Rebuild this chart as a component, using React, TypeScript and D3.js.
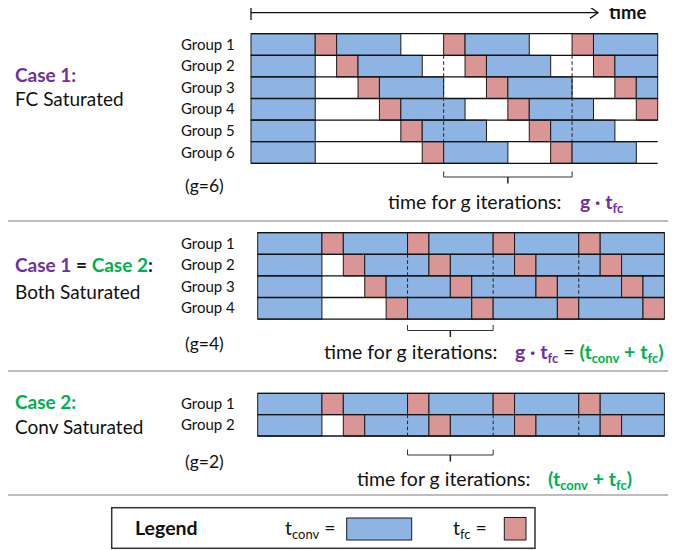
import React from "react";
import * as d3 from "d3";

// ---------- DATA (time units: t_fc = 1, t_conv = 3) ----------
type Seg = [number, number, "conv" | "fc"];

const TIME_SPAN = [0, 19];

const case1Groups = ["Group 1", "Group 2", "Group 3", "Group 4", "Group 5", "Group 6"];
const case1Segments: Seg[][] = [
  [[0, 3, "conv"], [3, 4, "fc"], [4, 7, "conv"], [9, 10, "fc"], [10, 13, "conv"], [15, 16, "fc"], [16, 19, "conv"]],
  [[0, 3, "conv"], [4, 5, "fc"], [5, 8, "conv"], [10, 11, "fc"], [11, 14, "conv"], [16, 17, "fc"], [17, 19, "conv"]],
  [[0, 3, "conv"], [5, 6, "fc"], [6, 9, "conv"], [11, 12, "fc"], [12, 15, "conv"], [17, 18, "fc"], [18, 19, "conv"]],
  [[0, 3, "conv"], [6, 7, "fc"], [7, 10, "conv"], [12, 13, "fc"], [13, 16, "conv"], [18, 19, "fc"]],
  [[0, 3, "conv"], [7, 8, "fc"], [8, 11, "conv"], [13, 14, "fc"], [14, 17, "conv"]],
  [[0, 3, "conv"], [8, 9, "fc"], [9, 12, "conv"], [14, 15, "fc"], [15, 18, "conv"]],
];
const case1Dashes = [9, 15];
const case1DashRows = [1, 4];
const case1Brace = [9, 15];

const case12Groups = ["Group 1", "Group 2", "Group 3", "Group 4"];
const case12Segments: Seg[][] = [
  [[0, 3, "conv"], [3, 4, "fc"], [4, 7, "conv"], [7, 8, "fc"], [8, 11, "conv"], [11, 12, "fc"], [12, 15, "conv"], [15, 16, "fc"], [16, 19, "conv"]],
  [[0, 3, "conv"], [4, 5, "fc"], [5, 8, "conv"], [8, 9, "fc"], [9, 12, "conv"], [12, 13, "fc"], [13, 16, "conv"], [16, 17, "fc"], [17, 19, "conv"]],
  [[0, 3, "conv"], [5, 6, "fc"], [6, 9, "conv"], [9, 10, "fc"], [10, 13, "conv"], [13, 14, "fc"], [14, 17, "conv"], [17, 18, "fc"], [18, 19, "conv"]],
  [[0, 3, "conv"], [6, 7, "fc"], [7, 10, "conv"], [10, 11, "fc"], [11, 14, "conv"], [14, 15, "fc"], [15, 18, "conv"], [18, 19, "fc"]],
];
const case12Dashes = [7, 11, 15];
const case12DashRows = [1, 2];
const case12Brace = [7, 11];

const case2Groups = ["Group 1", "Group 2"];
const case2Segments: Seg[][] = [
  [[0, 3, "conv"], [3, 4, "fc"], [4, 7, "conv"], [7, 8, "fc"], [8, 11, "conv"], [11, 12, "fc"], [12, 15, "conv"], [15, 16, "fc"], [16, 19, "conv"]],
  [[0, 3, "conv"], [4, 5, "fc"], [5, 8, "conv"], [8, 9, "fc"], [9, 12, "conv"], [12, 13, "fc"], [13, 16, "conv"], [16, 17, "fc"], [17, 19, "conv"]],
];
const case2Dashes = [7, 11, 15];
const case2DashRows = [1, 1];
const case2Brace = [7, 11];

const gLabels = ["(g=6)", "(g=4)", "(g=2)"];

// ---------- STYLE ----------
const BLUE = "#8EB4E3";
const RED = "#D99694";
const PURPLE = "#7030A0";
const GREEN = "#00B050";
const FONT = "Lato, 'Open Sans', sans-serif";

const W = 683;
const H = 550;
const TXT = 19.5;
const SUB = 13;

interface PanelProps {
  groups: string[];
  segments: Seg[][];
  dashes: number[];
  dashRows: number[];
  brace: number[];
  x0: number;
  width: number;
  top: number;
  rowH: number;
  braceTop: number;
}

function Panel(p: PanelProps) {
  const x = d3.scaleLinear().domain(TIME_SPAN).range([p.x0, p.x0 + p.width]);
  const y = d3
    .scaleBand<string>()
    .domain(p.groups)
    .range([p.top, p.top + p.rowH * p.groups.length])
    .padding(0);
  const bw = y.bandwidth();
  const bounds = d3.range(p.groups.length + 1).map((i) => p.top + i * bw);
  const [b1, b2] = p.brace;
  const xm = (x(b1) + x(b2)) / 2;
  const bt = p.braceTop;
  return (
    <g>
      {p.groups.map((g, gi) => (
        <g key={g}>
          <text x={181} y={(y(g) as number) + bw / 2 + 5} fontSize={15} fontFamily={FONT} fill="#111">
            {g}
          </text>
          {p.segments[gi].map((s, si) => (
            <rect
              key={si}
              x={x(s[0])}
              y={y(g)}
              width={x(s[1]) - x(s[0])}
              height={bw}
              fill={s[2] === "conv" ? BLUE : RED}
              stroke="#1a1a1a"
              strokeWidth={1}
            />
          ))}
        </g>
      ))}
      {bounds.map((by, i) => (
        <line key={i} x1={x(TIME_SPAN[0])} x2={x(TIME_SPAN[1])} y1={by} y2={by} stroke="#111" strokeWidth={1.3} />
      ))}
      {p.dashes.map((d, i) => (
        <line
          key={i}
          x1={x(d)}
          x2={x(d)}
          y1={bounds[p.dashRows[0]]}
          y2={bounds[p.dashRows[1] + 1]}
          stroke="#222"
          strokeWidth={1}
          strokeDasharray="3.5,2.5"
        />
      ))}
      <path
        d={`M${x(b1)},${bt} V${bt + 5.5} H${x(b2)} V${bt}`}
        fill="none"
        stroke="#333"
        strokeWidth={1}
      />
      <line x1={xm} x2={xm} y1={bt + 5.5} y2={bt + 12} stroke="#222" strokeWidth={1.5} />
    </g>
  );
}

const subStyle = { fontSize: SUB };

export default function App() {
  return (
    <svg width={W} height={H} style={{ display: "block", margin: "-8px 0 0 -8px" }} fontFamily={FONT}>
      <rect x={0} y={0} width={W} height={H} fill="#fff" />
      {/* time arrow */}
      <line x1={251} x2={251} y1={3} y2={20} stroke="#111" strokeWidth={1.3} />
      <line x1={251} x2={598} y1={12.7} y2={12.7} stroke="#111" strokeWidth={1.3} />
      <path d="M590,7 L598,12.7 L590,18.4" fill="none" stroke="#111" strokeWidth={1.3} />
      <text x={609} y={19} fontSize={18.5} fontWeight="bold" fill="#111">
        time
      </text>

      {/* separators */}
      {[221, 371, 495].map((sy) => (
        <line key={sy} x1={0} x2={668} y1={sy} y2={sy} stroke="#A6A6A6" strokeWidth={1.5} />
      ))}

      {/* Case 1 */}
      <text x={15} y={82} fontSize={19} fontWeight="bold" fill={PURPLE}>
        Case 1:
      </text>
      <text x={15} y={106} fontSize={19} fill="#111">
        FC Saturated
      </text>
      <Panel
        groups={case1Groups}
        segments={case1Segments}
        dashes={case1Dashes}
        dashRows={case1DashRows}
        brace={case1Brace}
        x0={251}
        width={406.7}
        top={33.7}
        rowH={21.6}
        braceTop={171.5}
      />
      <text x={185} y={192} fontSize={17.5} fill="#111">
        {gLabels[0]}
      </text>
      <text x={388} y={209} fontSize={TXT} fill="#111">
        time for g iterations:
      </text>
      <text x={580} y={209} fontSize={TXT} fontWeight="bold" fill={PURPLE}>
        g · t<tspan dy={4} style={subStyle}>fc</tspan>
      </text>

      {/* Case 1 = Case 2 */}
      <text x={15} y={272} fontSize={19} fontWeight="bold" fill="#111">
        <tspan fill={PURPLE}>Case 1</tspan>
        <tspan> = </tspan>
        <tspan fill={GREEN}>Case 2</tspan>
        <tspan>:</tspan>
      </text>
      <text x={15} y={298.5} fontSize={19} fill="#111">
        Both Saturated
      </text>
      <Panel
        groups={case12Groups}
        segments={case12Segments}
        dashes={case12Dashes}
        dashRows={case12DashRows}
        brace={case12Brace}
        x0={257.7}
        width={406.7}
        top={232.7}
        rowH={21.6}
        braceTop={325}
      />
      <text x={185} y={350} fontSize={17.5} fill="#111">
        {gLabels[1]}
      </text>
      <text x={324} y={359} fontSize={TXT} fill="#111">
        time for g iterations:
      </text>
      <text x={515} y={359} fontSize={TXT} fontWeight="bold">
        <tspan fill={PURPLE}>g · t</tspan>
        <tspan fill={PURPLE} dy={4} style={subStyle}>fc</tspan>
        <tspan fill="#111" fontWeight="normal" dy={-4}> = </tspan>
        <tspan fill={GREEN}>(t</tspan>
        <tspan fill={GREEN} dy={4} style={subStyle}>conv</tspan>
        <tspan fill={GREEN} dy={-4}> + t</tspan>
        <tspan fill={GREEN} dy={4} style={subStyle}>fc</tspan>
        <tspan fill={GREEN} dy={-4}>)</tspan>
      </text>

      {/* Case 2 */}
      <text x={15} y={409} fontSize={19} fontWeight="bold" fill={GREEN}>
        Case 2:
      </text>
      <text x={15} y={434} fontSize={19} fill="#111">
        Conv Saturated
      </text>
      <Panel
        groups={case2Groups}
        segments={case2Segments}
        dashes={case2Dashes}
        dashRows={case2DashRows}
        brace={case2Brace}
        x0={257.7}
        width={406.7}
        top={393.3}
        rowH={21.35}
        braceTop={449.5}
      />
      <text x={185} y={468} fontSize={17.5} fill="#111">
        {gLabels[2]}
      </text>
      <text x={357} y={486} fontSize={TXT} fill="#111">
        time for g iterations:
      </text>
      <text x={548} y={486} fontSize={TXT} fontWeight="bold" fill={GREEN}>
        (t<tspan dy={4} style={subStyle}>conv</tspan>
        <tspan dy={-4}> + t</tspan>
        <tspan dy={4} style={subStyle}>fc</tspan>
        <tspan dy={-4}>)</tspan>
      </text>

      {/* Legend */}
      <rect x={111.7} y={507.7} width={423.3} height={40.6} fill="#fff" stroke="#333" strokeWidth={1.5} />
      <text x={135} y={534.5} fontSize={19.5} fontWeight="bold" fill="#111">
        Legend
      </text>
      <text x={285} y={534.5} fontSize={TXT} fill="#111">
        t<tspan dy={4} style={subStyle}>conv</tspan>
        <tspan dy={-4}> =</tspan>
      </text>
      <rect x={346.7} y={518} width={65} height={22} fill={BLUE} stroke="#1a1a1a" strokeWidth={1} />
      <text x={453} y={534.5} fontSize={TXT} fill="#111">
        t<tspan dy={4} style={subStyle}>fc</tspan>
        <tspan dy={-4}> =</tspan>
      </text>
      <rect x={504.3} y={517.5} width={21.7} height={22.5} fill={RED} stroke="#1a1a1a" strokeWidth={1} />
    </svg>
  );
}
